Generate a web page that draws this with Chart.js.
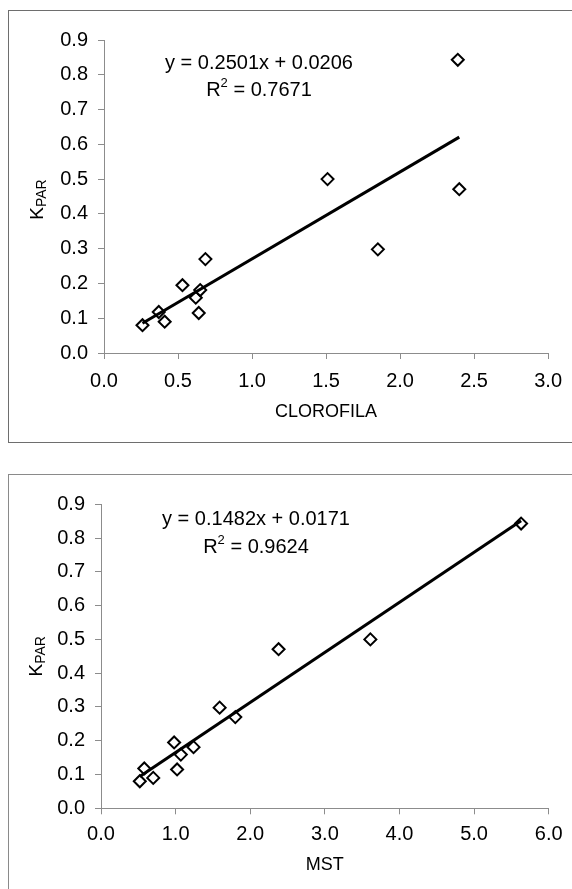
<!DOCTYPE html>
<html>
<head>
<meta charset="utf-8">
<script src="https://cdn.jsdelivr.net/npm/chart.js@4.4.1/dist/chart.umd.min.js"></script>
<style>
  html, body { margin: 0; padding: 0; background: #fff; overflow: hidden; }
  body { width: 572px; height: 889px; position: relative; }
  .frame { position: absolute; left: 8px; width: 600px; border: 1px solid #6e6e6e; box-sizing: border-box; }
  #f1 { top: 10px; height: 433px; }
  #f2 { top: 474px; height: 460px; border-color: #8a8a8a; }
  canvas { position: absolute; }
  #c1 { left: 9px; top: 11px; }
  #c2 { left: 9px; top: 475px; }
</style>
</head>
<body>
<div class="frame" id="f1"></div>
<div class="frame" id="f2"></div>
<canvas id="c1" width="563" height="430"></canvas>
<canvas id="c2" width="563" height="414"></canvas>
<script>
// K_PAR per sample (same samples in both plots)
var kpar      = [0.08, 0.118, 0.09, 0.195, 0.159, 0.181, 0.115, 0.27, 0.50, 0.298, 0.471, 0.843];
var clorofila = [0.26, 0.37, 0.41, 0.53, 0.62, 0.65, 0.64, 0.685, 1.51, 1.85, 2.40, 2.39];
var mst       = [0.52, 0.58, 0.70, 0.98, 1.07, 1.24, 1.02, 1.80, 3.61, 1.59, 2.38, 5.63];

// trendlines as printed on the chart
var fit1 = { slope: 0.2501, icpt: 0.0206, r2: '0.7671' };
var fit2 = { slope: 0.1482, icpt: 0.0171, r2: '0.9624' };

var yTicks = [0, 0.9, 0.1];
var x1Ticks = [0, 3, 0.5];
var x2Ticks = [0, 6, 1];

var FONT = "'Liberation Sans', Arial, sans-serif";
var AXIS = '#8c8c8c';

function pts(xs, ys) {
  return xs.map(function (x, i) { return { x: x, y: ys[i] }; });
}
function trend(xs, fit) {
  var lo = Math.min.apply(null, xs), hi = Math.max.apply(null, xs);
  return [{ x: lo, y: fit.slope * lo + fit.icpt }, { x: hi, y: fit.slope * hi + fit.icpt }];
}
function eqText(fit) {
  return 'y = ' + fit.slope.toFixed(4) + 'x + ' + fit.icpt.toFixed(4);
}

// equation, R² and the K_PAR axis title
var labels = {
  id: 'labels',
  afterDraw: function (chart, args, o) {
    var ctx = chart.ctx, a = chart.chartArea;
    ctx.save();
    ctx.fillStyle = '#000';
    ctx.textBaseline = 'middle';
    ctx.font = '20px ' + FONT;
    var cx = a.left + o.dx;
    ctx.textAlign = 'center';
    ctx.fillText(o.eq, cx, a.top + o.dy1);
    // R² line
    ctx.textAlign = 'left';
    var w1 = ctx.measureText('R').width, w3 = ctx.measureText(' = ' + o.r2).width;
    ctx.font = '13px ' + FONT;
    var w2 = ctx.measureText('2').width;
    var x0 = cx - (w1 + w2 + w3) / 2, y2 = a.top + o.dy2;
    ctx.font = '20px ' + FONT;
    ctx.fillText('R', x0, y2);
    ctx.fillText(' = ' + o.r2, x0 + w1 + w2, y2);
    ctx.font = '13px ' + FONT;
    ctx.fillText('2', x0 + w1, y2 - 7);
    // rotated K_PAR
    ctx.translate(a.left - o.kx, (a.top + a.bottom) / 2 + o.ky);
    ctx.rotate(-Math.PI / 2);
    ctx.textBaseline = 'alphabetic';
    ctx.font = '19px ' + FONT;
    var kw = ctx.measureText('K').width;
    ctx.font = '14px ' + FONT;
    var pw = ctx.measureText('PAR').width;
    var sx = -(kw + pw) / 2;
    ctx.font = '19px ' + FONT;
    ctx.fillText('K', sx, 0);
    ctx.font = '14px ' + FONT;
    ctx.fillText('PAR', sx + kw, 3);
    ctx.restore();
  }
};

function makeChart(id, xs, fit, xt, title, lay) {
  return new Chart(document.getElementById(id), {
    type: 'scatter',
    data: {
      datasets: [
        {
          type: 'line', data: trend(xs, fit), borderColor: '#000', borderWidth: 3,
          pointRadius: 0, fill: false, order: 0
        },
        {
          data: pts(xs, kpar), pointStyle: 'rectRot', pointRadius: 6, pointHoverRadius: 6,
          borderColor: '#000', backgroundColor: '#fff', borderWidth: 2, order: 1
        }
      ]
    },
    options: {
      responsive: false,
      animation: false,
      events: [],
      layout: { padding: { top: lay.top, right: lay.right, left: 0, bottom: 0 } },
      plugins: {
        legend: { display: false },
        tooltip: { enabled: false },
        labels: { eq: eqText(fit), r2: fit.r2, dx: 155, dy1: lay.dy1, dy2: lay.dy2, kx: lay.kx, ky: lay.ky }
      },
      scales: {
        x: {
          type: 'linear', min: xt[0], max: xt[1],
          border: { color: AXIS, width: 1 },
          grid: { drawOnChartArea: false, drawTicks: true, tickLength: 6, color: AXIS },
          ticks: {
            stepSize: xt[2], color: '#000', padding: lay.xpad, font: { family: FONT, size: 20 },
            callback: function (v) { return v.toFixed(1); }
          },
          title: { display: true, text: title, color: '#000', font: { family: FONT, size: 18 }, padding: { top: 0, bottom: lay.tpad } },
          afterFit: function (s) { s.height = lay.xh; }
        },
        y: {
          type: 'linear', min: yTicks[0], max: yTicks[1],
          border: { color: AXIS, width: 1 },
          grid: { drawOnChartArea: false, drawTicks: true, tickLength: 6, color: AXIS },
          ticks: {
            stepSize: yTicks[2], color: '#000', padding: 10, font: { family: FONT, size: 20 },
            callback: function (v) { return v.toFixed(1); }
          },
          afterFit: function (s) { s.width = lay.yw; }
        }
      }
    },
    plugins: [labels]
  });
}

makeChart('c1', clorofila, fit1, x1Ticks, 'CLOROFILA',
  { top: 29, right: 23, yw: 95, xh: 88, xpad: 10, tpad: 18, dy1: 23, dy2: 50, kx: 61, ky: 3 });
makeChart('c2', mst, fit2, x2Ticks, 'MST',
  { top: 29.3, right: 23.3, yw: 92, xh: 80.7, xpad: 8, tpad: 13, dy1: 15, dy2: 43, kx: 59, ky: 0 });
</script>
</body>
</html>
